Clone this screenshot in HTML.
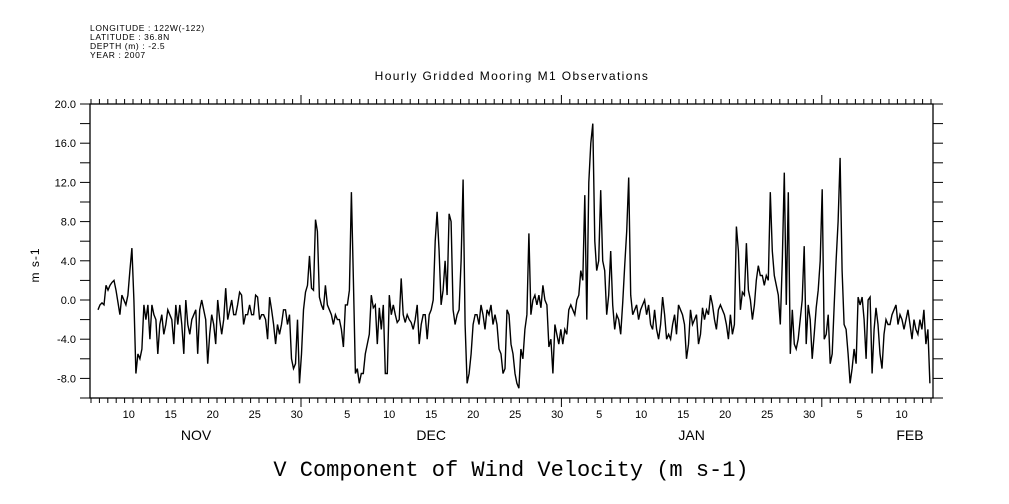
<!DOCTYPE html>
<html><head><meta charset="utf-8">
<style>
html,body{margin:0;padding:0;background:#fff;}
svg{display:block;font-family:"Liberation Sans",sans-serif;}
</style></head>
<body>
<svg id="chart" width="1009" height="504" viewBox="0 0 1009 504" xmlns="http://www.w3.org/2000/svg">
  <rect width="1009" height="504" fill="#fff"/>
  <g font-size="8.5" fill="#000" letter-spacing="0.6">
    <text x="90" y="31">LONGITUDE : 122W(-122)</text>
    <text x="90" y="40">LATITUDE : 36.8N</text>
    <text x="90" y="49">DEPTH (m) : -2.5</text>
    <text x="90" y="58">YEAR : 2007</text>
  </g>
  <text x="512" y="80" text-anchor="middle" font-size="12" letter-spacing="1.4">Hourly Gridded Mooring M1 Observations</text>
  <text x="0" y="0" transform="translate(39,265) rotate(-90)" text-anchor="middle" font-size="12" letter-spacing="1">m s-1</text>
  <text x="511" y="476" text-anchor="middle" font-size="22" font-family="'Liberation Mono',monospace">V Component of Wind Velocity (m s-1)</text>
  <g id="axes"></g>
  <g id="series"></g>
</svg>
<script>
// y-axis
const yTicks = [20, 18, 16, 14, 12, 10, 8, 6, 4, 2, 0, -2, -4, -6, -8, -10];
const yLabels = ["20.0", "16.0", "12.0", "8.0", "4.0", "0.0", "-4.0", "-8.0"];
const yLabelValues = [20, 16, 12, 8, 4, 0, -4, -8];
// x-axis (days since Nov 1 00:00)
const dayLabels = ["10","15","20","25","30","5","10","15","20","25","30","5","10","15","20","25","30","5","10"];
const dayLabelDays = [9,14,19,24,29,35,40,45,50,55,60,65,70,75,80,85,90,96,101];
const monthNames = ["NOV","DEC","JAN","FEB"];
const monthLabelDays = [17.5,45.5,76.5,102.5];
const monthStarts = [30, 61, 92];
// series: V wind, sampled every 0.2375 day starting at day 5.833
const startDay = 5.833;
const stepDays = 0.2375;
const vWind = [
-1,-0.5,-0.3,-0.5,1.5,1.0,1.5,1.8,2.0,1.0,-0.2,-1.5,0.5,0,-0.5,0.5,3.0,5.3,0,-7.5,-5.5,-6,-5,-0.5,-2,-0.5,-4,-0.5,-1.5,-2,
-5.5,-2.5,-1.5,-3.5,-2.5,-1,-1.5,-2,-4.5,-0.5,-2.5,-0.5,-2.5,-5.5,0,-2.5,-3.5,-2,-1.5,-1,-5.5,-1,0,-1,-2,-6.5,-3.5,-1.5,-2.5,-4.5,
0,-2,-3.5,-2,1.2,-2,-1,0,-1.5,-1.5,-0.5,0.8,0.5,-2.5,-1.5,-1.5,-0.5,-1.5,-1.5,0.5,0.3,-2,-1.5,-1.5,-2,-4,0.3,-1,-2.5,-4.5,
-2.5,-3.5,-2.5,-1,-1,-2.5,-1.5,-6,-7,-6.5,-2,-8.5,-5.5,-1,0.8,
1.5,4.5,1.2,1.0,8.2,7,0.3,-0.5,-1,1.5,-0.5,-1,-1.5,-2.5,-1.5,-2,-2,-3,-4.8,-0.5,-0.5,1,11,2,-7.5,-7,-8.5,-7.5,-7.5,-5.5,
-4.5,-3.5,0.5,-0.8,-0.5,-4.5,-0.8,-3,-0.5,-7.5,-7.5,0.5,-1.5,-0.5,-1.5,-2.3,-2,2.2,-1.5,-2.3,-1.5,-2,-2.3,-3,-2,-0.5,-4.5,-2.5,-1.5,-1.5,
-4,-1.5,-1,0,6,9,5,-0.5,1,4,0.5,8.8,8,-1,-2.5,-1.5,-1,4,12.3,-2.5,-8.5,-7.5,-5.5,-2.5,-1.5,-1.5,-2.5,-0.5,-1.5,-3,
-1,-1.5,-0.5,-2.5,-1.5,-2.5,-5,-5.5,-7.5,-7,-1,-1.5,-4.5,-5.5,-7.5,-8.5,
-9,-5,-6,-3,-1.5,6.8,-1.5,0,0.5,-0.5,0.5,-0.8,1.5,0,-0.5,-4.8,-4,-7.5,-2.5,-3.5,-4.5,-3,-4.5,-3,-3.5,-1,-0.5,-1,-1.5,0,
0.5,3,2,10.7,-2,12,16,18,6,3,4,11.2,4,3,-1.5,0.5,5,-0.5,-3,-1.5,-2,-3.5,-0.3,3.5,7,12.5,0.5,-1.5,-1,-0.5,
-2,-1,-0.5,0,-1.5,-0.5,-2.5,-3,-1,-3,-4,-2.5,0.3,-1.5,-4,-3.5,-4,-2.5,-1.5,-3.5,-0.5,-1,-1.5,-2.5,-6,-4.5,-1,-2.5,-2,-1.5,
-4.5,-3.5,-0.8,-2,-1,-1.5,0.5,-0.5,-2,-3,-1,-0.5,-1,-1.5,-2.5,-4,
-1.5,-3.5,-2.5,7.5,5,-1,0.8,0.5,5.8,1,0,-2,-0.5,2,3.5,2.5,2.5,1.5,2.5,2,11,5,2.5,1.5,0.5,-2.5,4,13,-0.5,11,
-5.5,-1,-4.5,-5,-4,-2,0,5.5,-4.5,-0.5,-2,-6,-3.5,-0.8,1,4,11.3,-4,-3.5,-1.5,-6.5,-5.5,-0.5,4,8,14.5,3,-2.5,-3,-5.5,
-8.5,-7,-5,-6.5,0.3,-0.5,0.3,-2,-6,0,0.3,-7.5,-3,-0.8,-2.5,-5.5,-7,-3.5,-2,-2.5,-2.5,-1.5,-1,-0.5,-2.5,-1.5,-2,-3,-2,-1,
-2.5,-4,-2,-3,-3.5,-2,-3,-1,-4.5,-3,-8.5
];

const NS = "http://www.w3.org/2000/svg";
const L = 90, R = 933, T = 104, B = 398;
const xDay0 = 49, pxPerDay = 8.4;
function xScale(d){ return xDay0 + d * pxPerDay; }
function yScale(v){ return T + (20 - v) * (B - T) / 30; }
function mk(tag, attrs, parent){
  const e = document.createElementNS(NS, tag);
  for (const k in attrs) e.setAttribute(k, attrs[k]);
  parent.appendChild(e);
  return e;
}
const axes = document.getElementById('axes');
const frame = mk('rect', {x:L, y:T, width:R-L, height:B-T, fill:'none', stroke:'#000', 'stroke-width':1.3}, axes);



yTicks.forEach(v => {
  const y = yScale(v);
  const tl = mk('line', {x1:L-10, x2:L, y1:y, y2:y, stroke:'#000', 'stroke-width':1}, axes);
  
  
  const tr = mk('line', {x1:R, x2:R+10, y1:y, y2:y, stroke:'#000', 'stroke-width':1}, axes);
  
  
});
yLabelValues.forEach((v, i) => {
  const t = mk('text', {x:L-14, y:yScale(v)+4, 'text-anchor':'end', 'font-size':11}, axes);
  t.textContent = yLabels[i];
  
  
});
for (let d = Math.ceil((L - xDay0)/pxPerDay); xScale(d) <= R + 0.5; d++) {
  const x = xScale(d);
  const big = monthStarts.indexOf(d) >= 0;
  const tt = mk('line', {x1:x, x2:x, y1:T, y2:T-(big?9:5), stroke:'#000', 'stroke-width':1}, axes);
  
  
  const tb = mk('line', {x1:x, x2:x, y1:B, y2:B+(big?9:5), stroke:'#000', 'stroke-width':1}, axes);
  
  
}
dayLabels.forEach((s, i) => {
  const t = mk('text', {x:xScale(dayLabelDays[i]+0.5), y:418, 'text-anchor':'middle', 'font-size':11}, axes);
  t.textContent = s;
  
  
});
monthNames.forEach((s, i) => {
  const t = mk('text', {x:xScale(monthLabelDays[i]), y:440, 'text-anchor':'middle', 'font-size':14}, axes);
  t.textContent = s;
  
  
});

const pts = vWind.map((v, i) => xScale(startDay + i*stepDays).toFixed(1) + ',' + yScale(v).toFixed(1));
const line = mk('polyline', {points: pts.join(' '), fill:'none', stroke:'#000', 'stroke-width':1.4, 'stroke-linejoin':'miter'}, document.getElementById('series'));


</script>
</body></html>
